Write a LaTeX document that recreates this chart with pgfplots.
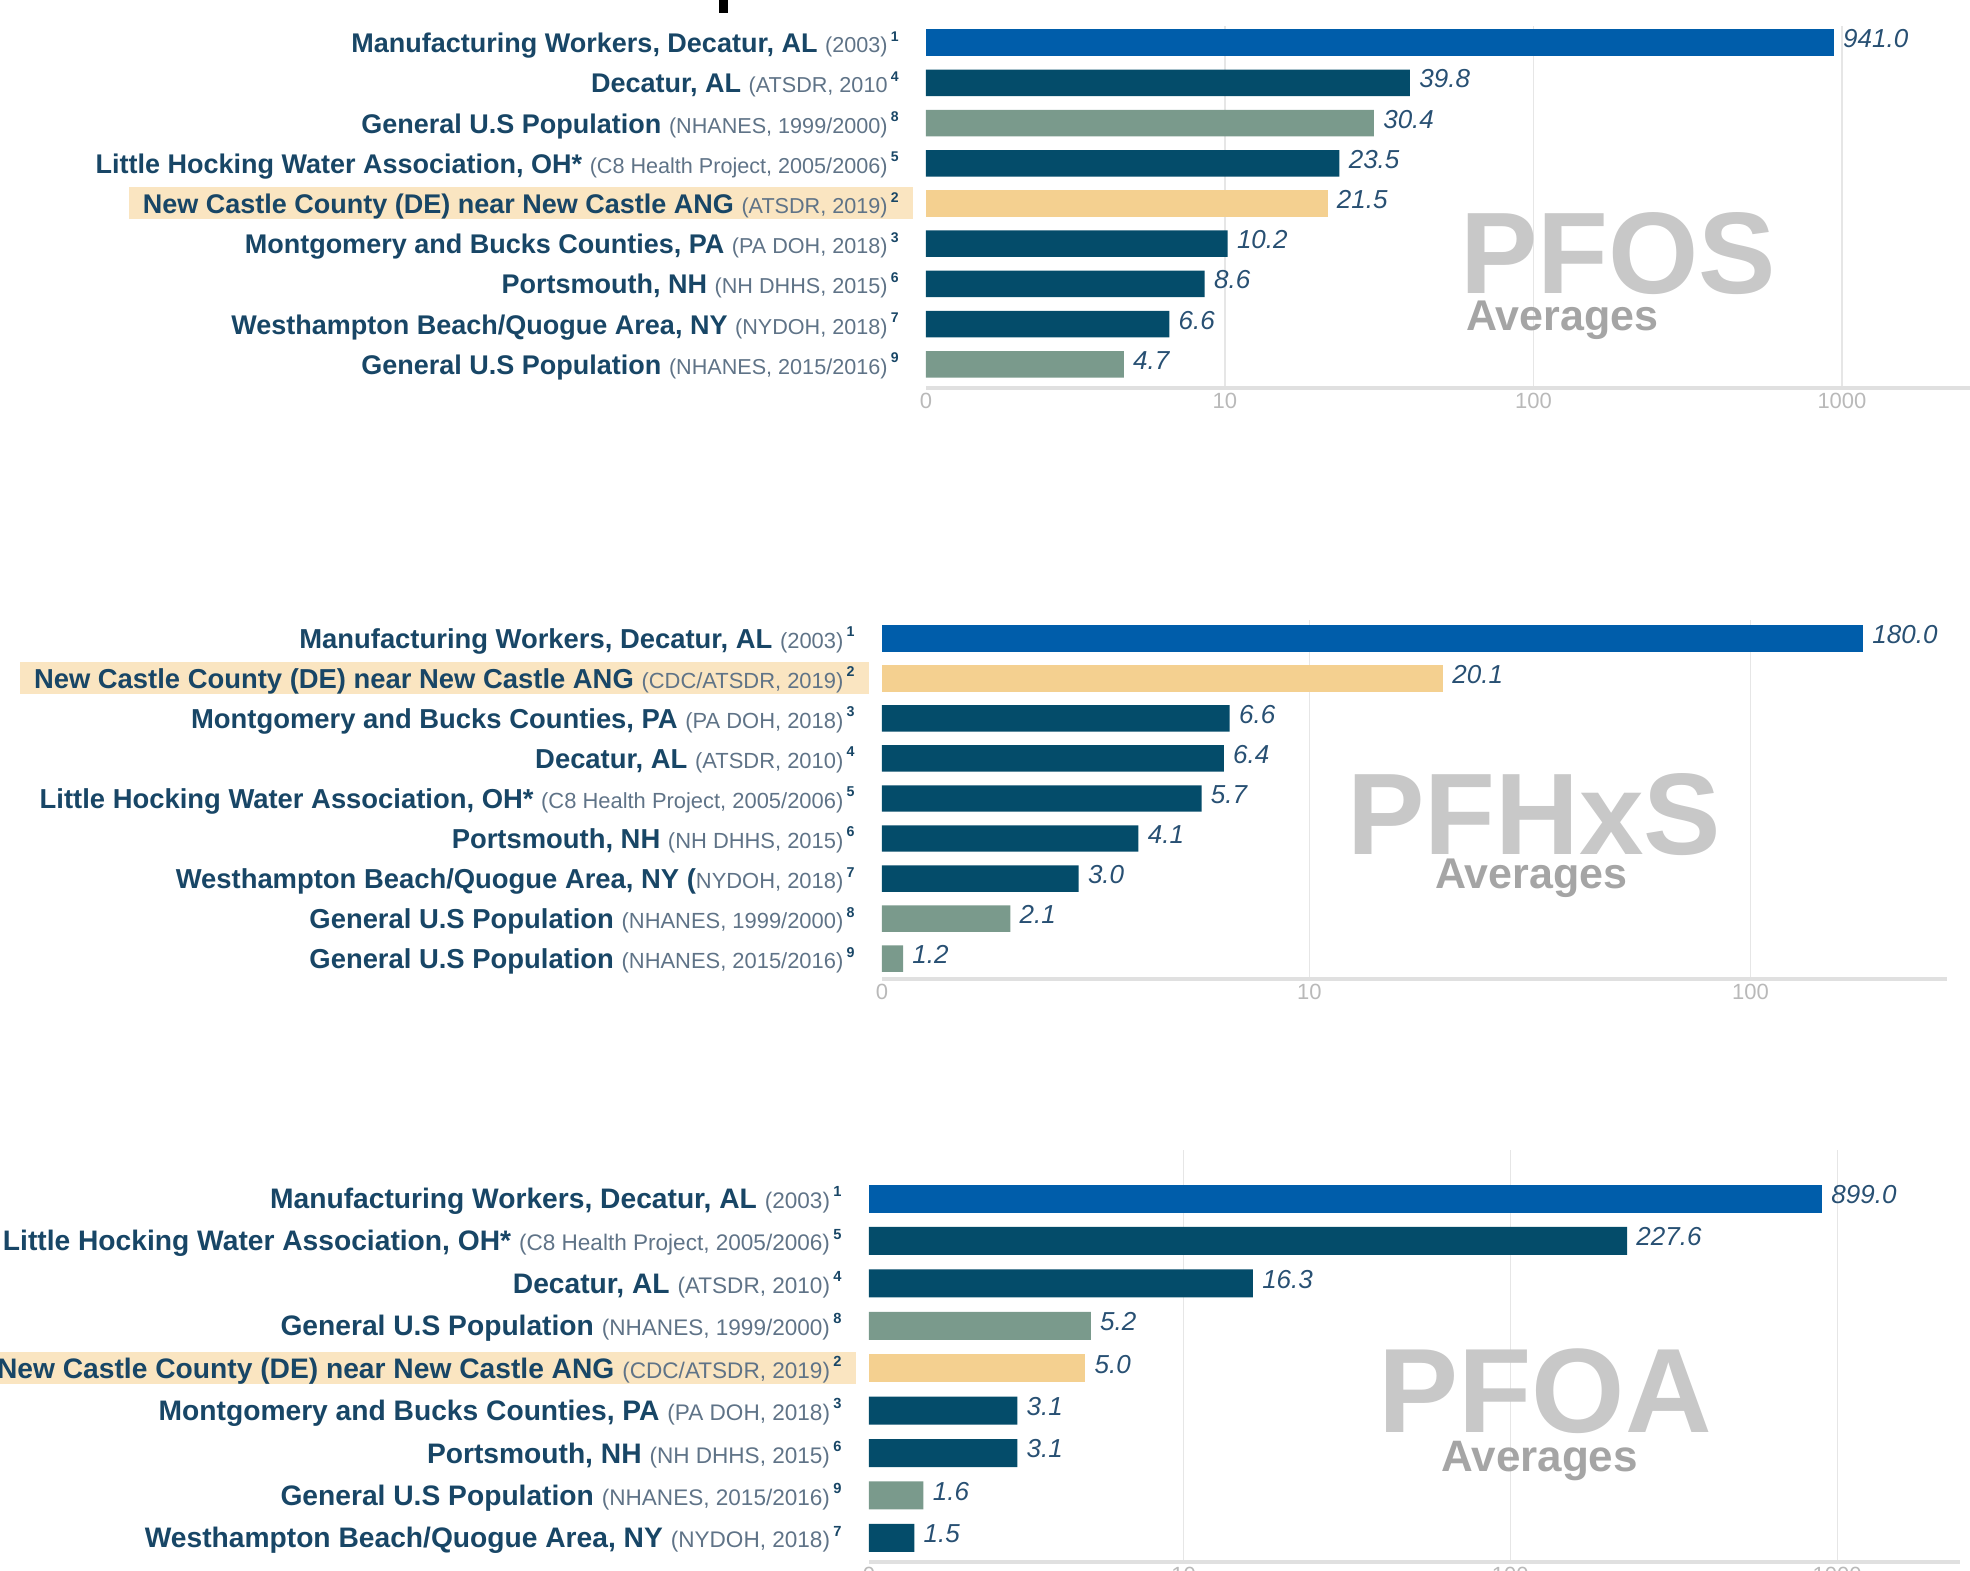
\documentclass[border=0pt]{standalone}
\usepackage{pgfplots}
\pgfplotsset{compat=1.18}
\usepackage{fontspec}
\setmainfont{Liberation Sans}

\definecolor{blueT}{RGB}{0,93,170}
\definecolor{darkB}{RGB}{4,76,106}
\definecolor{greenB}{RGB}{122,154,140}
\definecolor{yelB}{RGB}{244,208,144}
\definecolor{hl}{RGB}{250,229,193}
\definecolor{labc}{RGB}{24,70,102}
\definecolor{srcc}{RGB}{95,115,135}
\definecolor{valc}{RGB}{40,80,115}
\definecolor{wmA}{RGB}{200,200,200}
\definecolor{wmB}{RGB}{165,165,165}
\definecolor{gridc}{RGB}{230,230,230}
\definecolor{axisc}{RGB}{224,224,224}
\definecolor{tickc}{RGB}{185,185,185}

\newcommand\bsz{13}
\newcommand\lab[3]{\begingroup\fontsize{\bsz pt}{\bsz pt}\selectfont\rule[-3pt]{0pt}{16pt}\hspace*{7pt}{\color{labc}\bfseries #1}\hspace{0.28em}{\color{srcc}\fontsize{\fpeval{\bsz*0.8}pt}{\fpeval{\bsz*0.9}pt}\selectfont #2}\hspace{0.12em}\raisebox{0.42em}{\color{labc}\fontsize{\fpeval{\bsz*0.52}pt}{\fpeval{\bsz*0.6}pt}\selectfont\bfseries #3}\hspace*{7pt}\endgroup}
\newcommand\hlab[3]{{\setlength{\fboxsep}{0pt}\colorbox{hl}{\lab{#1}{#2}{#3}}}}

\pgfplotsset{
  myPanel/.style={
    xbar, bar width=0.66, bar shift=0pt,
    axis x line*=bottom, axis y line*=left,
    x axis line style={-, draw=axisc, line width=2pt},
    y axis line style={draw=none},
    ytick={0,...,8},
    major tick length=0pt, minor tick length=0pt,
    xtick={10,100,1000}, xticklabels={10,100,1000},
    xmajorgrids, grid style={draw=gridc, line width=0.6pt},
    extra x tick style={grid=none},
    x tick label style={font=\fontsize{11}{11}\selectfont, text=tickc, inner sep=0pt, yshift=-2.5pt},
    yticklabel style={anchor=east, inner sep=0pt, xshift=-6.5pt},
    nodes near coords={\pgfmathprintnumber[fixed,fixed zerofill,precision=1,assume math mode=true]{\pgfplotspointmeta}},
    point meta=rawx,
    every node near coord/.append style={font=\fontsize{13}{13}\selectfont\itshape, text=valc, anchor=west, inner sep=0pt, xshift=4.5pt, yshift=2pt},
    clip=false, enlargelimits=false,
  }
}

\begin{document}
\begin{tikzpicture}
\useasboundingbox (0pt,0pt) rectangle (985pt,-785pt);
\clip (0pt,0pt) rectangle (985pt,-785pt);
\fill[black] (359.5pt,0pt) rectangle (364pt,-6.5pt);

% ---------------- PFOS ----------------
\renewcommand\bsz{13.5}
\begin{axis}[xmode=log, log origin x=infty, y dir=reverse, scale only axis,
  myPanel, at={(463pt,-194pt)}, anchor=south west,
  width=522pt, height=181.1pt, xmin=1.074, xmax=2600, ymin=-0.42, ymax=8.59,
  extra x ticks={1.074}, extra x tick labels={0},
  yticklabels={
    {\lab{Manufacturing Workers, Decatur, AL}{(2003)}{1}},
    {\lab{Decatur, AL}{(ATSDR, 2010}{4}},
    {\lab{General U.S Population}{(NHANES, 1999/2000)}{8}},
    {\lab{Little Hocking Water Association, OH*}{(C8 Health Project, 2005/2006)}{5}},
    {\hlab{New Castle County (DE) near New Castle ANG}{(ATSDR, 2019)}{2}},
    {\lab{Montgomery and Bucks Counties, PA}{(PA DOH, 2018)}{3}},
    {\lab{Portsmouth, NH}{(NH DHHS, 2015)}{6}},
    {\lab{Westhampton Beach/Quogue Area, NY}{(NYDOH, 2018)}{7}},
    {\lab{General U.S Population}{(NHANES, 2015/2016)}{9}}}]
\addplot[draw=none, fill=blueT] coordinates {(941.0,0)};
\addplot[draw=none, fill=darkB] coordinates {(39.8,1) (23.5,3) (10.2,5) (8.6,6) (6.6,7)};
\addplot[draw=none, fill=greenB] coordinates {(30.4,2) (4.7,8)};
\addplot[draw=none, fill=yelB] coordinates {(21.5,4)};
\end{axis}
\node[anchor=base west, inner sep=0pt, text=wmA, font=\fontsize{58}{58}\selectfont\bfseries] at (730pt,-146.5pt) {PFOS};
\node[anchor=base west, inner sep=0pt, text=wmB, font=\fontsize{21.5}{21.5}\selectfont\bfseries] at (733pt,-165pt) {Averages};

% ---------------- PFHxS ----------------
\renewcommand\bsz{13.7}
\begin{axis}[xmode=log, log origin x=infty, y dir=reverse, scale only axis,
  myPanel, at={(441pt,-489.5pt)}, anchor=south west,
  width=532.5pt, height=179.35pt, xmin=1.075, xmax=279, ymin=-0.45, ymax=8.51,
  extra x ticks={1.075}, extra x tick labels={0},
  yticklabels={
    {\lab{Manufacturing Workers, Decatur, AL}{(2003)}{1}},
    {\hlab{New Castle County (DE) near New Castle ANG}{(CDC/ATSDR, 2019)}{2}},
    {\lab{Montgomery and Bucks Counties, PA}{(PA DOH, 2018)}{3}},
    {\lab{Decatur, AL}{(ATSDR, 2010)}{4}},
    {\lab{Little Hocking Water Association, OH*}{(C8 Health Project, 2005/2006)}{5}},
    {\lab{Portsmouth, NH}{(NH DHHS, 2015)}{6}},
    {\lab{Westhampton Beach/Quogue Area, NY (\hspace{-0.28em}}{NYDOH, 2018)}{7}},
    {\lab{General U.S Population}{(NHANES, 1999/2000)}{8}},
    {\lab{General U.S Population}{(NHANES, 2015/2016)}{9}}}]
\addplot[draw=none, fill=blueT] coordinates {(180.0,0)};
\addplot[draw=none, fill=yelB] coordinates {(20.1,1)};
\addplot[draw=none, fill=darkB] coordinates {(6.6,2) (6.4,3) (5.7,4) (4.1,5) (3.0,6)};
\addplot[draw=none, fill=greenB] coordinates {(2.1,7) (1.2,8)};
\end{axis}
\node[anchor=base west, inner sep=0pt, text=wmA, font=\fontsize{58}{58}\selectfont\bfseries] at (673.5pt,-427pt) {PFHxS};
\node[anchor=base west, inner sep=0pt, text=wmB, font=\fontsize{21.5}{21.5}\selectfont\bfseries] at (717.5pt,-444pt) {Averages};

% ---------------- PFOA ----------------
\renewcommand\bsz{14.1}
\begin{axis}[xmode=log, log origin x=infty, y dir=reverse, scale only axis,
  myPanel, at={(434.5pt,-781pt)}, anchor=south west,
  width=545.5pt, height=205.9pt, xmin=1.09, xmax=2377, ymin=-1.14, ymax=8.57,
  extra x ticks={1.09}, extra x tick labels={0},
  yticklabels={
    {\lab{Manufacturing Workers, Decatur, AL}{(2003)}{1}},
    {\lab{Little Hocking Water Association, OH*}{(C8 Health Project, 2005/2006)}{5}},
    {\lab{Decatur, AL}{(ATSDR, 2010)}{4}},
    {\lab{General U.S Population}{(NHANES, 1999/2000)}{8}},
    {\hlab{New Castle County (DE) near New Castle ANG}{(CDC/ATSDR, 2019)}{2}},
    {\lab{Montgomery and Bucks Counties, PA}{(PA DOH, 2018)}{3}},
    {\lab{Portsmouth, NH}{(NH DHHS, 2015)}{6}},
    {\lab{General U.S Population}{(NHANES, 2015/2016)}{9}},
    {\lab{Westhampton Beach/Quogue Area, NY}{(NYDOH, 2018)}{7}}}]
\addplot[draw=none, fill=blueT] coordinates {(899.0,0)};
\addplot[draw=none, fill=darkB] coordinates {(227.6,1) (16.3,2) (3.1,5) (3.1,6) (1.5,8)};
\addplot[draw=none, fill=greenB] coordinates {(5.2,3) (1.6,7)};
\addplot[draw=none, fill=yelB] coordinates {(5.0,4)};
\end{axis}
\node[anchor=base west, inner sep=0pt, text=wmA, font=\fontsize{60}{60}\selectfont\bfseries] at (689pt,-716pt) {PFOA};
\node[anchor=base west, inner sep=0pt, text=wmB, font=\fontsize{22}{22}\selectfont\bfseries] at (720.5pt,-735.5pt) {Averages};
\end{tikzpicture}
\end{document}
